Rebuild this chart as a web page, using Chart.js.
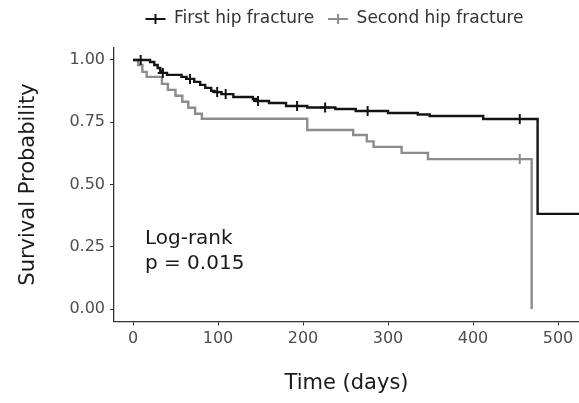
<!DOCTYPE html>
<html><head><meta charset="utf-8">
<script src="https://cdn.jsdelivr.net/npm/chart.js@4"></script>
<style>html,body{margin:0;padding:0;background:#fff}#wrap{width:579px;height:403px}</style>
</head><body><div id="wrap"><canvas id="c" width="579" height="403"></canvas></div>
<script>
const seriesNames = ['First hip fracture', 'Second hip fracture'];

const firstTimes    = [0, 9, 20, 25, 29, 32, 35, 40, 57, 63, 67, 72, 79, 85, 92, 96, 99, 104, 109, 118, 141, 145, 147, 160, 180, 193, 205, 226, 238, 262, 276, 300, 335, 349, 412, 455, 476, 525];
const firstSurv     = [1.000, 1.000, 0.992, 0.980, 0.968, 0.956, 0.948, 0.940, 0.932, 0.924, 0.924, 0.912, 0.900, 0.888, 0.876, 0.871, 0.871, 0.863, 0.863, 0.851, 0.843, 0.835, 0.835, 0.827, 0.815, 0.815, 0.809, 0.809, 0.803, 0.795, 0.795, 0.787, 0.781, 0.775, 0.763, 0.763, 0.382, 0.382];
const firstCensored = [0, 1, 0, 0, 0, 0, 1, 0, 0, 0, 1, 0, 0, 0, 0, 0, 1, 0, 1, 0, 0, 0, 1, 0, 0, 1, 0, 1, 0, 0, 1, 0, 0, 0, 0, 1, 0, 0];

const secondTimes    = [0, 6, 11, 16, 34, 41, 50, 58, 65, 73, 81, 205, 259, 275, 283, 316, 347, 455, 469];
const secondSurv     = [1.000, 0.980, 0.952, 0.932, 0.904, 0.880, 0.856, 0.832, 0.808, 0.784, 0.764, 0.719, 0.699, 0.673, 0.651, 0.627, 0.602, 0.602, 0.000];
const secondCensored = [0, 0, 0, 0, 0, 0, 0, 0, 0, 0, 0, 0, 0, 0, 0, 0, 0, 1, 0];

const xTicks = [0, 100, 200, 300, 400, 500];
const yTicks = [0, 0.25, 0.5, 0.75, 1];
const annotationLines = ['Log-rank', 'p = 0.015'];

function buildPoints(times, surv) {
  return times.map((t, i) => ({x: t, y: surv[i]}));
}
function radii(flags) { return flags.map(f => f ? 5 : 0); }

const FONT = '"DejaVu Sans", "Liberation Sans", sans-serif';
const colors = ['#141414', '#8c8c8c'];

const annotationPlugin = {
  id: 'logrank',
  afterDatasetsDraw(chart) {
    const {ctx, scales: {x, y}} = chart;
    ctx.save();
    ctx.font = '20px ' + FONT;
    ctx.fillStyle = '#1a1a1a';
    ctx.textAlign = 'left';
    ctx.textBaseline = 'alphabetic';
    const px = x.getPixelForValue(14);
    const py = y.getPixelForValue(0.26);
    annotationLines.forEach((t, i) => ctx.fillText(t, px, py + i * 25));
    ctx.restore();
  }
};

// centre the legend over the plotting panel and lift it, as ggplot does
const legendPlacePlugin = {
  id: 'legendPlace',
  afterLayout(chart) {
    const lg = chart.legend, ca = chart.chartArea;
    if (!lg) return;
    lg.left = ca.left - 24; lg.right = ca.right; lg.width = lg.right - lg.left;
    lg.top -= 10; lg.bottom -= 10;
  }
};

new Chart(document.getElementById('c'), {
  type: 'line',
  data: {
    datasets: [
      {
        label: seriesNames[0],
        data: buildPoints(firstTimes, firstSurv),
        borderColor: colors[0], backgroundColor: colors[0],
        pointBorderColor: colors[0], pointBackgroundColor: colors[0],
        borderWidth: 2.4, stepped: 'before', fill: false,
        pointStyle: 'cross', pointRadius: radii(firstCensored), pointBorderWidth: 2, pointHoverRadius: radii(firstCensored)
      },
      {
        label: seriesNames[1],
        data: buildPoints(secondTimes, secondSurv),
        borderColor: colors[1], backgroundColor: colors[1],
        pointBorderColor: colors[1], pointBackgroundColor: colors[1],
        borderWidth: 2.4, stepped: 'before', fill: false,
        pointStyle: 'cross', pointRadius: radii(secondCensored), pointBorderWidth: 2, pointHoverRadius: radii(secondCensored)
      }
    ]
  },
  options: {
    responsive: false, animation: false, devicePixelRatio: 1,
    layout: {padding: {top: 6.5, left: 0, right: 0, bottom: 0}},
    plugins: {
      legend: {
        position: 'top',
        labels: {
          usePointStyle: true, pointStyleWidth: 20, boxHeight: 7,
          font: {family: FONT, size: 17}, color: '#333', padding: 14
        }
      },
      tooltip: {enabled: false}
    },
    scales: {
      x: {
        type: 'linear', min: -22.4, max: 524.7,
        afterBuildTicks: s => { s.ticks = xTicks.map(v => ({value: v})); },
        afterFit: s => { s.height = 81.5; },
        ticks: {font: {family: FONT, size: 16}, color: '#4d4d4d', padding: 4, maxRotation: 0},
        grid: {drawOnChartArea: false, drawTicks: true, tickLength: 4, color: '#333', lineWidth: 1},
        border: {display: true, color: '#333', width: 1.3},
        title: {display: true, text: 'Time (days)', font: {family: FONT, size: 21}, color: '#1a1a1a', padding: {top: 0, bottom: 7}}
      },
      y: {
        type: 'linear', min: -0.05, max: 1.05,
        afterBuildTicks: s => { s.ticks = yTicks.map(v => ({value: v})); },
        afterFit: s => { s.width = 114; },
        ticks: {font: {family: FONT, size: 16}, color: '#4d4d4d', padding: 5, callback: v => Number(v).toFixed(2)},
        grid: {drawOnChartArea: false, drawTicks: true, tickLength: 4, color: '#333', lineWidth: 1},
        border: {display: true, color: '#333', width: 1.3},
        title: {display: true, text: 'Survival Probability', font: {family: FONT, size: 21}, color: '#1a1a1a', padding: {top: 16, bottom: 0}}
      }
    }
  },
  plugins: [annotationPlugin, legendPlacePlugin]
});
</script>
</body></html>
